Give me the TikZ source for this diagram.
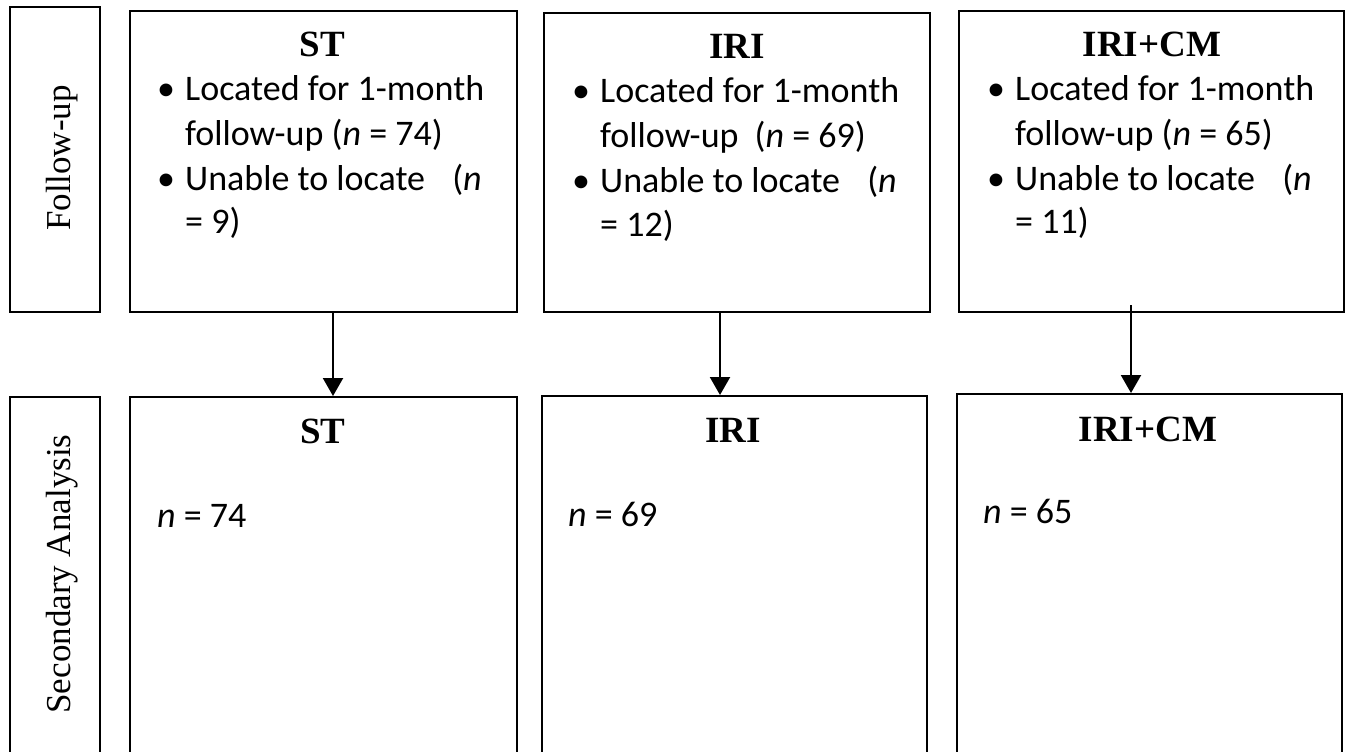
\documentclass[tikz,border=0pt]{standalone}
\usepackage{fontspec}
\setmainfont{Liberation Serif}
\newfontfamily\calib{Carlito}
\usetikzlibrary{arrows.meta}
\begin{document}
\begin{tikzpicture}[x=1pt,y=-1pt,
 box/.style={draw,line width=2.2pt,inner sep=0pt,anchor=north west},
 side/.style={font=\fontsize{35}{40}\selectfont, rotate=90, anchor=base, inner sep=0pt},
 ttl/.style={font=\fontsize{37}{40}\selectfont\bfseries, anchor=base, inner sep=0pt},
 txt/.style={font=\fontsize{36}{40}\selectfont\calib, anchor=base west, inner sep=0pt},
 arr/.style={line width=2.2pt,-{Triangle[width=20pt,length=18pt]}}]
\useasboundingbox (0,0) rectangle (1349,752);
\clip (0,0) rectangle (1349,752);
% row label boxes
\node[box, minimum width=90pt, minimum height=305pt] (fu) at (9,6) {};
\node[box, minimum width=90pt, minimum height=400pt] (sa) at (9,396) {};
\node[side] (fulab) at (70,158) {Follow-up};
\node[side] (salab) at (70,574) {Secondary Analysis};
% top boxes
\node[box, minimum width=387pt, minimum height=301pt] (t1) at (129,10) {};
\node[box, minimum width=386pt, minimum height=299pt] (t2) at (543,12) {};
\node[box, minimum width=385pt, minimum height=301pt] (t3) at (958,10) {};
% bottom boxes
\node[box, minimum width=387pt, minimum height=400pt] (b1) at (129,396) {};
\node[box, minimum width=385pt, minimum height=400pt] (b2) at (541,395) {};
\node[box, minimum width=385pt, minimum height=400pt] (b3) at (956,393) {};
% titles
\node[ttl] (t1h) at (322.5,57) {ST};
\node[ttl] (t2h) at (737,59) {IRI};
\node[ttl] (t3h) at (1152,57) {IRI+CM};
\node[ttl] (b1h) at (323,443) {ST};
\node[ttl] (b2h) at (733,442) {IRI};
\node[ttl] (b3h) at (1148,441) {IRI+CM};
% top texts
\node[txt] (t1a) at (157,100) {\makebox[28pt][l]{•}Located for 1-month};
\node[txt] (t1b) at (185,145) {follow-up (\textit{n} = 74)};
\node[txt] (t1c) at (157,190) {\makebox[28pt][l]{•}Unable to locate\hspace{19pt} (\textit{n}};
\node[txt] (t1d) at (185,233) {= 9)};
\node[txt] (t2a) at (572,102) {\makebox[28pt][l]{•}Located for 1-month};
\node[txt] (t2b) at (600,147) {follow-up\hspace{8pt} (\textit{n} = 69)};
\node[txt] (t2c) at (572,192) {\makebox[28pt][l]{•}Unable to locate\hspace{19pt} (\textit{n}};
\node[txt] (t2d) at (600,236) {= 12)};
\node[txt] (t3a) at (987,100) {\makebox[28pt][l]{•}Located for 1-month};
\node[txt] (t3b) at (1015,145) {follow-up (\textit{n} = 65)};
\node[txt] (t3c) at (987,190) {\makebox[28pt][l]{•}Unable to locate\hspace{19pt} (\textit{n}};
\node[txt] (t3d) at (1015,233) {= 11)};
% bottom texts
\node[txt] (b1n) at (157,527) {\textit{n} = 74};
\node[txt] (b2n) at (568,526) {\textit{n} = 69};
\node[txt] (b3n) at (983,523) {\textit{n} = 65};
% arrows
\coordinate (ax1) at (333,0);
\coordinate (ax2) at (720,0);
\coordinate (ax3) at (1131,0);
\draw[arr] (t1.south -| ax1) -- (b1.north -| ax1);
\draw[arr] (t2.south -| ax2) -- (b2.north -| ax2);
\draw[arr] ([yshift=8pt]t3.south -| ax3) -- (b3.north -| ax3);
\end{tikzpicture}
\end{document}
